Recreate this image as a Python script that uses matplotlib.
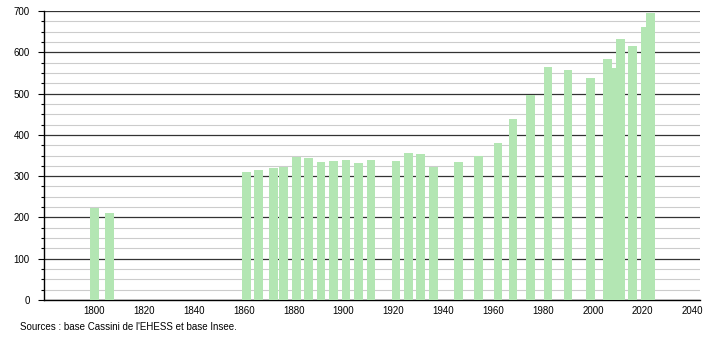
import matplotlib
matplotlib.use('Agg')
import matplotlib.pyplot as plt
from matplotlib.ticker import MultipleLocator

# population par année de recensement
annees = [1800, 1806, 1861, 1866, 1872, 1876, 1881, 1886, 1891, 1896, 1901,
          1906, 1911, 1921, 1926, 1931, 1936, 1946, 1954, 1962, 1968, 1975,
          1982, 1990, 1999, 2006, 2008, 2011, 2016, 2021, 2023]
population = [224, 211, 311, 315, 320, 323, 346, 344, 334, 337, 339,
              332, 339, 337, 357, 354, 323, 334, 350, 380, 438, 496,
              565, 557, 538, 584, 563, 632, 615, 661, 694]
x_ticks = [1800, 1820, 1840, 1860, 1880, 1900, 1920, 1940, 1960, 1980, 2000, 2020, 2040]
source = "Sources : base Cassini de l'EHESS et base Insee."

plt.rcParams['font.family'] = ['Liberation Sans', 'DejaVu Sans']

fig = plt.figure(figsize=(7.1, 3.4), dpi=100)
ax = fig.add_axes([0.0615, 0.1176, 0.9245, 0.85])

ax.bar(annees, population, width=3.5, color='#b3e6b3', zorder=3)

ax.set_xlim(1779.7, 2043)
ax.set_ylim(0, 700)
ax.set_xticks(x_ticks)
ax.yaxis.set_major_locator(MultipleLocator(100))
ax.yaxis.set_minor_locator(MultipleLocator(25))

ax.grid(True, which='major', axis='y', color='#333333', linewidth=0.9, zorder=1)
ax.grid(True, which='minor', axis='y', color='#cccccc', linewidth=0.8, zorder=0)

ax.spines['top'].set_visible(False)
ax.spines['right'].set_visible(False)
ax.spines['left'].set_linewidth(1)
ax.spines['bottom'].set_linewidth(1)

ax.tick_params(axis='x', length=0, pad=4, labelsize=7)
ax.tick_params(axis='y', which='major', length=4, width=0.8, pad=6, labelsize=7)
ax.tick_params(axis='y', which='minor', length=2, width=0.8)

fig.text(20 / 710, 1 - 327 / 340, source, fontsize=7, va='center', ha='left')

fig.savefig('out.png', dpi=100)
